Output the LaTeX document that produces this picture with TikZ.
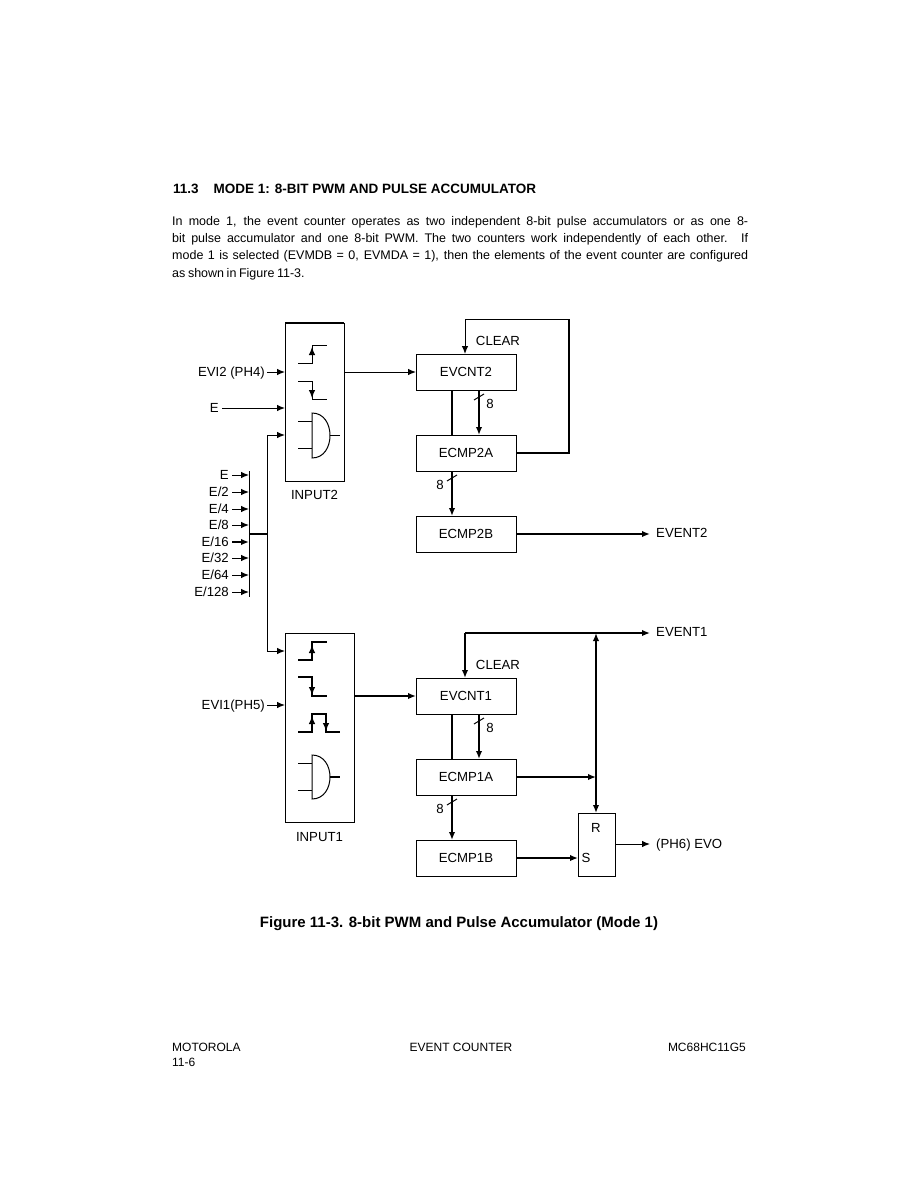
\documentclass[tikz,border=0pt]{standalone}
\usepackage{fontspec}
\setmainfont{Liberation Sans}
\usetikzlibrary{positioning,arrows.meta}
\tikzset{
  thin1/.style={line width=1pt},
  thick1/.style={line width=1.9pt},
  blockbox/.style={draw,line width=1pt,minimum width=100pt,minimum height=36pt,inner sep=0pt,outer sep=0pt,text height=9.4pt,text depth=0pt},
  inputbox/.style={draw,line width=1pt,anchor=north west,inner sep=0pt,outer sep=0pt},
  lbl/.style={inner sep=0pt,text height=9.4pt,text depth=0pt},
  footlbl/.style={inner sep=0pt,font=\fontsize{12pt}{14pt}\selectfont},
}
\begin{document}
\begin{tikzpicture}[x=1pt,y=-1pt,>={Latex[length=8pt,width=6.5pt]},every node/.style={font=\fontsize{13.2pt}{15pt}\selectfont}]
    \useasboundingbox (0,0) rectangle (919,1189);
    \node[inner sep=0pt,anchor=west,font=\fontsize{13.5pt}{15pt}\selectfont\bfseries] (heading) at (173,188.5) {11.3\hspace{15pt}MODE 1: 8-BIT PWM AND PULSE ACCUMULATOR};
    \node[inner sep=0pt,anchor=north west,text width=576pt,align=justify,font=\fontsize{12.5pt}{17.3pt}\selectfont] (para) at (172,216) {\spaceskip=2.6pt plus 4pt minus 1pt In mode 1, the event counter operates as two independent 8-bit pulse accumulators or as one 8-\linebreak bit pulse accumulator and one 8-bit PWM. The two counters work independently of each other. If\linebreak mode 1 is selected (EVMDB = 0, EVMDA = 1), then the elements of the event counter are configured\linebreak as shown in Figure 11-3.};
    \node[inputbox,minimum width=59pt,minimum height=158pt] (input2) at (285,323) {};
    \node[lbl,below=9pt of input2] (input2lbl) {INPUT2};
    \node[inputbox,minimum width=69pt,minimum height=189pt] (input1) at (285,633) {};
    \node[lbl,below=10pt of input1] (input1lbl) {INPUT1};
    \node[blockbox] (evcnt2) at (466,372) {EVCNT2};
    \node[blockbox,below=45pt of evcnt2] (ecmp2a) {ECMP2A};
    \node[blockbox,below=45pt of ecmp2a] (ecmp2b) {ECMP2B};
    \node[blockbox] (evcnt1) at (466,696) {EVCNT1};
    \node[blockbox,below=45pt of evcnt1] (ecmp1a) {ECMP1A};
    \node[blockbox,below=45pt of ecmp1a] (ecmp1b) {ECMP1B};
    \node[draw,line width=1pt,inner sep=0pt,outer sep=0pt,anchor=north west,minimum width=37pt,minimum height=63pt] (rs) at (578,813) {};
    \node[lbl] (rlbl) at (596,828) {R};
    \node[lbl] (slbl) at (586,858) {S};
    \node[lbl,anchor=west] (event2) at (656,533) {EVENT2};
    \node[lbl,anchor=west] (event1) at (656,632) {EVENT1};
    \node[lbl,anchor=west] (evo) at (656,844) {(PH6) EVO};
    \node[lbl] (clear2) at (498,341) {CLEAR};
    \node[lbl] (clear1) at (498,665) {CLEAR};
    \node[lbl,anchor=east] (evi2) at (265,372) {EVI2 (PH4)};
    \node[lbl,anchor=east] (eclk) at (219,408) {E};
    \node[lbl,anchor=east] (evi1) at (265,705) {EVI1(PH5)};
    \node[lbl,anchor=east] (e1) at (229,475) {E};
    \node[lbl,anchor=east] (e2) at (229,492) {E/2};
    \node[lbl,anchor=east] (e4) at (229,509) {E/4};
    \node[lbl,anchor=east] (e8) at (229,525) {E/8};
    \node[lbl,anchor=east] (e16) at (229,542) {E/16};
    \node[lbl,anchor=east] (e32) at (229,558) {E/32};
    \node[lbl,anchor=east] (e64) at (229,575) {E/64};
    \node[lbl,anchor=east] (e128) at (229,592) {E/128};
    \node[lbl] (n8a) at (490,404) {8};
    \node[lbl] (n8b) at (440,485) {8};
    \node[lbl] (n8c) at (490,728) {8};
    \node[lbl] (n8d) at (440,809) {8};
    \node[anchor=center,inner sep=0pt,font=\fontsize{15pt}{17pt}\selectfont\bfseries] (caption) at (459,924) {Figure 11-3. 8-bit PWM and Pulse Accumulator (Mode 1)};
    \node[footlbl,anchor=west] (foot1) at (172,1047) {MOTOROLA};
    \node[footlbl,anchor=west] (foot2) at (172,1062) {11-6};
    \node[footlbl] (foot3) at (461,1047) {EVENT COUNTER};
    \node[footlbl,anchor=east] (foot4) at (746,1047) {MC68HC11G5};
    \coordinate (busl) at (249,534);
    \coordinate (busr) at (267,534);
    \coordinate (clr2) at (465,319);
    \coordinate (clr1) at (465,633);
    \coordinate (tap1) at (596,633);
    \coordinate (tipx) at (650,0);
    \coordinate (in2c) at (285,435);
    \coordinate (in1a) at (285,651);
    \draw[thin1] (249,471)--(249,597);
    \draw[thick1] (busl)--(busr);
    \draw[thin1,->] (e1.east)++(3,0)--(e1.east-|busl);
    \draw[thin1,->] (e2.east)++(3,0)--(e2.east-|busl);
    \draw[thin1,->] (e4.east)++(3,0)--(e4.east-|busl);
    \draw[thin1,->] (e8.east)++(3,0)--(e8.east-|busl);
    \draw[thick1,->] (e16.east)++(3,0)--(e16.east-|busl);
    \draw[thin1,->] (e32.east)++(3,0)--(e32.east-|busl);
    \draw[thin1,->] (e64.east)++(3,0)--(e64.east-|busl);
    \draw[thin1,->] (e128.east)++(3,0)--(e128.east-|busl);
    \draw[thin1,->] (busr)|-(in2c);
    \draw[thin1,->] (busr)|-(in1a);
    \draw[thin1,->] (evi2.east)++(2,0)--(evi2.east-|input2.west);
    \draw[thin1,->] (eclk.east)++(3,0)--(eclk.east-|input2.west);
    \draw[thin1,->] (evi1.east)++(2,0)--(evi1.east-|input1.west);
    \draw[thick1] (input2.north west)--(input2.north east);
    \draw[thin1,->] (input2.east|-evcnt2.west)--(evcnt2.west);
    \draw[thick1,->] (input1.east|-evcnt1.west)--(evcnt1.west);
    \draw[thick1] (452,390)--(452,435);
    \draw[thick1,->] (479,390)--(479,435);
    \draw[thin1] (474,400)--(484,394);
    \draw[thick1,->] (452,471)--(452,516);
    \draw[thin1] (447,481)--(457,475);
    \draw[thick1,->] (ecmp2b.east)--(ecmp2b.east-|tipx);
    \draw[thin1] (clr2)--(569,319);
    \draw[thick1] (569,319)|-(ecmp2a.east);
    \draw[thin1,->] (clr2)--(clr2|-evcnt2.north);
    \draw[thick1] (452,714)--(452,759);
    \draw[thick1,->] (479,714)--(479,759);
    \draw[thin1] (474,724)--(484,718);
    \draw[thick1,->] (452,795)--(452,840);
    \draw[thin1] (447,805)--(457,799);
    \draw[thick1,->] (clr1)--(clr1|-evcnt1.north);
    \draw[thick1,->] (clr1)--(clr1-|tipx);
    \draw[thick1,<->] (tap1)--(tap1|-rs.north);
    \draw[thick1,->] (ecmp1a.east)--(ecmp1a.east-|tap1);
    \draw[thick1,->] (ecmp1b.east)--(ecmp1b.east-|rs.west);
    \draw[thin1,->] (rs.east|-evo.west)--(evo.west-|tipx);
    \draw[thin1] (298,363)-|(312,345)--(327,345);
    \draw[thin1,->] (312,363)--(312,347);
    \draw[thin1] (298,381)-|(312,399)--(327,399);
    \draw[thin1,->] (312,381)--(312,398);
    \draw[thin1] (312,413)..controls (324,413) and (330,424)..(330,435.5)..controls (330,447) and (324,458)..(312,458)--cycle;
    \draw[thin1] (298,421)--(312,421);
    \draw[thin1] (298,448)--(312,448);
    \draw[thin1] (330,435)--(340,435);
    \draw[thick1] (298,660)-|(312,642)--(327,642);
    \draw[thin1,->] (312,660)--(312,645);
    \draw[thick1] (298,677)-|(312,696)--(327,696);
    \draw[thin1,->] (312,677)--(312,695);
    \draw[thick1] (298,732)-|(312,714)-|(326,732)--(340,732);
    \draw[thin1,->] (312,732)--(312,716);
    \draw[thin1,->] (326,714)--(326,731);
    \draw[thin1] (312,755)..controls (324,755) and (330,766)..(330,777)..controls (330,788) and (324,799)..(312,799)--cycle;
    \draw[thin1] (298,763)--(312,763);
    \draw[thin1] (298,790)--(312,790);
    \draw[thick1] (330,777)--(340,777);
\end{tikzpicture}
\end{document}
